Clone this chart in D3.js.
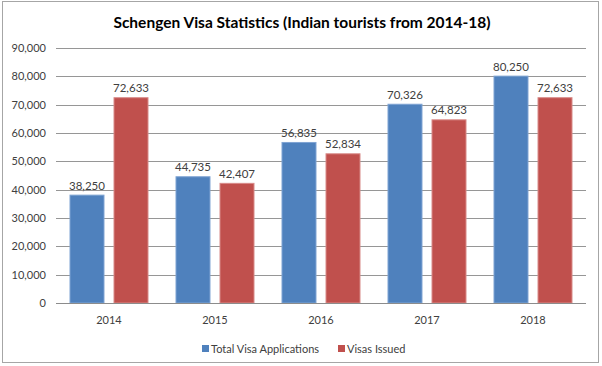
<!DOCTYPE html>
<html><head><meta charset="utf-8">
<script src="https://cdn.jsdelivr.net/npm/d3@7"></script>
<style>body{margin:0;background:#fff}svg{display:block}</style>
</head><body>
<svg id="c" width="602" height="366"></svg>
<script>
const years = ["2014","2015","2016","2017","2018"];
const applications = [38250, 44735, 56835, 70326, 80250];
const issued = [72633, 42407, 52834, 64823, 72633];
const seriesNames = ["Total Visa Applications", "Visas Issued"];
const yTicks = [0,10000,20000,30000,40000,50000,60000,70000,80000,90000];

const colors = ["#4F81BD", "#C0504D"];
const strokes = ["#7FA4D3", "#D88A88"];
const svg = d3.select("#c");
const font = "Lato, 'Open Sans', sans-serif";

svg.append("rect").attr("x",2.5).attr("y",1.5).attr("width",596).attr("height",361)
  .attr("fill","#fff").attr("stroke","#A6A6A6").attr("stroke-width",1);

const x = d3.scaleBand().domain(years).range([56,586]);
const y = d3.scaleLinear().domain([0,90000]).range([303,48]);

// gridlines
svg.append("g").selectAll("line").data(yTicks.slice(1)).join("line")
  .attr("x1",56).attr("x2",586).attr("y1",d=>Math.round(y(d))+0.5).attr("y2",d=>Math.round(y(d))+0.5)
  .attr("stroke","#969696").attr("stroke-width",1);

// y axis labels
const yAxis = d3.axisLeft(y).tickValues(yTicks).tickSize(0).tickPadding(0).tickFormat(d3.format(","));
const ya = svg.append("g").attr("transform","translate(46,0)").call(yAxis);
ya.select(".domain").remove();
ya.selectAll("text").attr("font-family",font).attr("font-size",11).attr("fill","#404040");

const sub = d3.scaleBand().domain([0,1]).range([13.5, x.bandwidth()-13.5]).paddingInner(0.205);
const data = years.map((yr,i)=>({yr, vals:[applications[i], issued[i]]}));

const g = svg.append("g").selectAll("g").data(data).join("g")
  .attr("transform",d=>`translate(${x(d.yr)},0)`);
g.selectAll("rect").data(d=>d.vals.map((v,k)=>({v,k}))).join("rect")
  .attr("x",d=>sub(d.k)+0.5).attr("width",sub.bandwidth()-1)
  .attr("y",d=>y(d.v)+0.5).attr("height",d=>y(0)-y(d.v)-0.5)
  .attr("fill",d=>colors[d.k]).attr("stroke",d=>strokes[d.k]).attr("stroke-width",1);
g.selectAll("text").data(d=>d.vals.map((v,k)=>({v,k}))).join("text")
  .attr("x",d=>sub(d.k)+sub.bandwidth()/2).attr("y",d=>y(d.v)-5)
  .attr("text-anchor","middle").attr("font-family",font).attr("font-size",11.5).attr("fill","#404040")
  .text(d=>d3.format(",")(d.v));

// x axis
const xAxis = d3.axisBottom(x).tickSize(0).tickPadding(13);
const xa = svg.append("g").attr("transform","translate(0,303)").call(xAxis);
xa.select(".domain").attr("stroke","#8C8C8C").attr("d","M56,0.5H586");
xa.selectAll("text").attr("font-family",font).attr("font-size",11).attr("fill","#404040");

// title
svg.append("text").attr("x",302).attr("y",28).attr("text-anchor","middle")
  .attr("font-family",font).attr("font-weight","bold").attr("font-size",15.5).attr("fill","#000")
  .text("Schengen Visa Statistics (Indian tourists from 2014-18)");

// legend
const legX = [202, 338];
const lg = svg.append("g").selectAll("g").data(seriesNames).join("g")
  .attr("transform",(d,i)=>`translate(${legX[i]},349)`);
lg.append("rect").attr("x",0).attr("y",-4).attr("width",7).attr("height",7).attr("fill",(d,i)=>colors[i]);
lg.append("text").attr("x",9).attr("y",4).attr("font-family",font).attr("font-size",11).attr("fill","#404040").text(d=>d);
</script>
</body></html>
